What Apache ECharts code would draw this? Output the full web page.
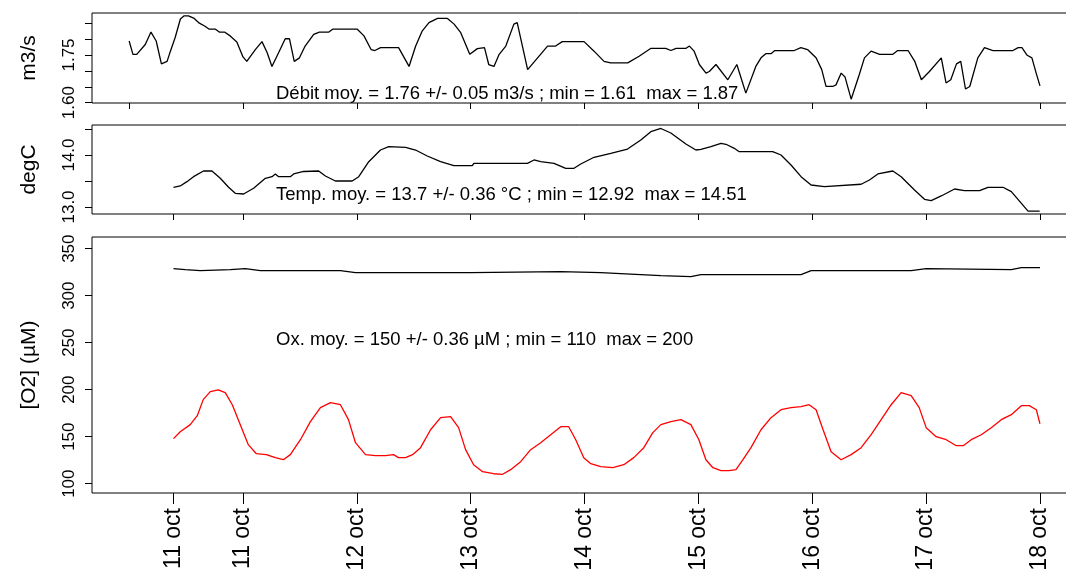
<!DOCTYPE html>
<html><head><meta charset="utf-8">
<script src="https://cdn.jsdelivr.net/npm/echarts@6/dist/echarts.min.js"></script>
<style>html,body{margin:0;padding:0;background:#fff}#c{width:1066px;height:571px}</style>
</head><body><div id="c"></div>
<script>
// time in hours since 10 oct 00:00
const flowTime = [0,0.8,1.6,3.4,4.6,5.7,6.8,8.0,8.7,9.7,10.8,11.6,12.5,13.6,14.8,15.9,16.9,18.2,19.0,20.1,21.3,22.7,24.0,24.8,26.6,28.0,29.1,30.1,31.5,32.9,33.8,34.8,35.9,37.1,38.9,40.1,42.1,42.9,48.1,49.5,51.0,51.8,53.0,56.8,59.0,60.4,61.8,63.2,65.0,67.1,68.5,69.9,71.8,73.4,74.9,75.8,76.9,78.0,79.4,81.1,81.8,84.0,86.1,88.2,89.9,91.3,95.9,98.0,100.1,101.5,105.1,107.5,110.0,113.1,114.2,115.3,117.4,118.1,119.1,120.2,121.6,122.3,123.7,126.2,128.1,130.0,132.1,133.2,134.2,135.3,136.1,140.2,141.6,143.0,144.8,146.0,146.9,148.3,149.0,150.1,150.9,152.2,153.9,155.0,156.4,158.2,161.0,162.0,164.2,165.6,167.0,168.7,171.2,172.2,173.2,174.4,175.3,176.3,177.2,178.9,180.3,182.1,186.3,187.4,188.2,189.3,190.3,191.2,192.0];
const flowValue = [1.794,1.752,1.752,1.783,1.822,1.794,1.722,1.730,1.762,1.805,1.863,1.873,1.873,1.866,1.850,1.841,1.831,1.831,1.822,1.822,1.810,1.791,1.744,1.730,1.767,1.792,1.757,1.714,1.757,1.801,1.801,1.730,1.741,1.778,1.815,1.822,1.822,1.831,1.831,1.810,1.767,1.764,1.773,1.773,1.714,1.778,1.826,1.852,1.865,1.865,1.847,1.820,1.752,1.770,1.773,1.720,1.714,1.752,1.778,1.847,1.852,1.704,1.741,1.778,1.778,1.792,1.792,1.762,1.730,1.725,1.725,1.746,1.771,1.771,1.764,1.771,1.771,1.778,1.762,1.720,1.693,1.698,1.720,1.672,1.720,1.630,1.714,1.741,1.754,1.754,1.764,1.764,1.773,1.767,1.741,1.704,1.651,1.651,1.656,1.693,1.681,1.611,1.688,1.741,1.762,1.752,1.752,1.764,1.764,1.730,1.672,1.698,1.741,1.662,1.672,1.722,1.730,1.643,1.651,1.741,1.773,1.764,1.764,1.773,1.773,1.749,1.741,1.693,1.653];

const tempTime = [9.35,10.77,12.18,13.57,15.68,17.46,19.21,20.96,22.37,24.13,26.24,28.71,30.12,30.82,31.51,33.98,34.68,36.79,39.96,41.37,43.48,47.01,48.40,50.51,52.98,54.73,58.26,60.37,62.84,65.65,68.45,72.34,72.67,83.95,85.34,86.75,89.56,92.03,93.78,95.20,98.0,101.53,105.06,107.86,109.97,112.08,114.19,117.36,119.47,120.53,122.64,124.75,125.81,127.56,128.61,135.66,137.41,139.52,141.64,143.75,146.55,154.30,156.05,157.83,160.99,162.74,165.55,167.66,169.07,171.18,173.99,176.10,179.27,181.04,184.21,185.96,189.49,191.94];
const tempValue = [13.379,13.404,13.487,13.583,13.692,13.692,13.552,13.379,13.263,13.25,13.36,13.552,13.583,13.635,13.583,13.583,13.635,13.683,13.692,13.596,13.5,13.5,13.583,13.871,14.096,14.16,14.148,14.096,13.981,13.871,13.794,13.794,13.840,13.840,13.904,13.871,13.840,13.744,13.744,13.827,13.956,14.033,14.115,14.288,14.448,14.51,14.423,14.212,14.096,14.11,14.16,14.225,14.206,14.129,14.063,14.063,14.0,13.808,13.583,13.423,13.39,13.437,13.519,13.635,13.692,13.583,13.327,13.148,13.121,13.212,13.346,13.313,13.313,13.379,13.379,13.294,12.92,12.92];

const oxTime = [9.35,10.77,12.88,14.36,15.62,17.10,18.79,20.26,21.74,23.43,25.12,26.81,28.92,30.82,32.51,33.98,36.10,38.21,40.32,42.43,44.54,46.23,47.71,49.82,51.93,54.04,55.73,56.78,58.26,59.74,61.43,63.54,65.65,67.76,69.45,70.92,72.61,74.51,76.83,78.73,80.42,82.53,84.64,86.75,88.86,90.97,92.66,94.14,95.83,97.30,99.41,101.95,104.27,106.38,108.49,110.39,112.08,114.19,116.30,118.41,120.10,121.58,123.06,124.75,126.44,127.92,129.39,131.08,133.19,135.30,137.41,139.52,141.64,143.32,144.80,146.28,147.97,150.08,152.19,154.30,156.41,158.52,160.63,162.74,164.85,166.54,168.01,170.12,172.24,174.35,175.82,177.51,179.62,181.73,183.84,185.96,188.07,189.75,191.23,192.0];
const oxValue = [147.9,155.3,162.8,172.3,189.4,197.9,199.8,196.8,184.0,162.8,141.5,131.9,130.9,127.7,125.5,130.9,146.8,166.0,180.9,186.2,184.0,168.1,143.6,130.9,129.8,129.8,130.9,127.7,127.7,130.9,138.3,157.4,170.2,171.3,159.6,136.2,120.2,112.8,110.6,110.0,114.9,123.4,136.2,143.6,152.1,160.6,160.6,146.8,127.7,121.3,118.1,117.0,120.2,127.7,138.3,154.3,162.8,166.0,168.1,162.8,146.8,125.5,117.0,113.8,113.8,114.9,125.5,138.3,157.4,170.2,178.7,180.9,181.9,184.0,178.7,157.4,134.0,125.5,130.9,138.3,152.1,168.1,184.0,196.8,193.6,180.9,159.6,150.0,146.8,140.4,140.4,146.8,152.1,159.6,168.1,173.4,183.0,183.0,178.7,163.8];

const satTime = [9.35,11.82,14.99,21.32,24.49,27.65,44.54,47.71,71.99,90.97,99.41,112.08,118.41,120.53,141.64,143.75,164.85,168.01,185.96,188.07,192.0];
const satValue = [328.7,327.7,326.6,327.7,328.7,326.6,326.6,324.5,324.5,325.5,324.5,321.3,320.2,322.3,322.3,326.6,326.6,328.7,327.7,329.8,329.8];

const xTicksTop = [0,24,48,72,96,120,144,168,192];
const xTicks = [9.35,24,48,72,96,120,144,168,192];
const xTickLabels = ["11 oct","11 oct","12 oct","13 oct","14 oct","15 oct","16 oct","17 oct","18 oct"];

const flowTicks = [1.60,1.65,1.70,1.75,1.80,1.85];
const flowLabels = [1.60,1.75];
const tempTicks = [13.0,13.5,14.0,14.5];
const tempLabels = [13.0,14.0];
const oxTicks = [100,150,200,250,300,350];

const yNames = ["m3/s","degC","[O2] (µM)"];
const notes = [
  "Débit moy. = 1.76 +/- 0.05 m3/s ; min = 1.61  max = 1.87",
  "Temp. moy. = 13.7 +/- 0.36 °C ; min = 12.92  max = 14.51",
  "Ox. moy. = 150 +/- 0.36 µM ; min = 110  max = 200"
];

const FONT = 'Liberation Sans';
const X_MIN = -7.83, X_MAX = 198.33;
const zip = (a,b)=>a.map((t,i)=>[t,b[i]]);

function xAxis(i, ticks, showLabels, tickLen){
  return {type:'value', gridIndex:i, min:X_MIN, max:X_MAX,
    axisLine:{show:false, onZero:false}, splitLine:{show:false},
    axisTick:{show:true, length:tickLen, customValues:ticks, lineStyle:{color:'#000', width:1}},
    axisLabel:{show:showLabels, customValues:ticks, rotate:90, margin:15, color:'#000', fontSize:23, fontFamily:FONT,
      formatter:(v)=>{const k=ticks.findIndex(t=>Math.abs(t-v)<1e-6); return k>=0?xTickLabels[k]:'';}}};
}
function yAxis(i, min, max, ticks, labels, name, dec){
  return {type:'value', gridIndex:i, min:min, max:max, name:name, nameLocation:'middle', nameRotate:90, nameGap:52,
    nameTextStyle:{fontSize:21, color:'#000', fontFamily:FONT},
    axisLine:{show:false, onZero:false}, splitLine:{show:false},
    axisTick:{show:true, length:7, customValues:ticks, lineStyle:{color:'#000', width:1}},
    axisLabel:{customValues:labels, rotate:90, margin:14, fontSize:17, color:'#000', fontFamily:FONT,
      formatter:(v)=>v.toFixed(dec)}};
}
const line = (xi, data, color)=>({type:'line', xAxisIndex:xi, yAxisIndex:xi, data:data, showSymbol:false, symbol:'none',
  lineStyle:{color:color, width:1.3}, animation:false, silent:true});
const grid = (top, height)=>({left:92, right:-4, top:top, height:height, show:true, borderColor:'#000', borderWidth:1,
  containLabel:false, outerBoundsMode:'none'});

const chart = echarts.init(document.getElementById('c'), null, {renderer:'canvas'});
chart.setOption({
  backgroundColor:'#fff',
  animation:false,
  grid:[ grid(13, 90), grid(125, 89), grid(237, 256) ],
  xAxis:[ xAxis(0, xTicksTop, false, 6), xAxis(1, xTicks, false, 6), xAxis(2, xTicks, true, 11) ],
  yAxis:[
    yAxis(0, 1.599, 1.882, flowTicks, flowLabels, yNames[0], 2),
    yAxis(1, 12.865, 14.577, tempTicks, tempLabels, yNames[1], 1),
    yAxis(2, 90.1, 362.4, oxTicks, oxTicks, yNames[2], 0)
  ],
  series:[
    line(0, zip(flowTime, flowValue), '#000'),
    line(1, zip(tempTime, tempValue), '#000'),
    line(2, zip(satTime, satValue), '#000'),
    line(2, zip(oxTime, oxValue), '#ff0000')
  ],
  graphic: notes.map((t,i)=>({type:'text', left:276, top:[84,185,330][i], silent:true,
    style:{text:t, font:'18.5px "Liberation Sans"', fill:'#000'}}))
});
</script></body></html>
